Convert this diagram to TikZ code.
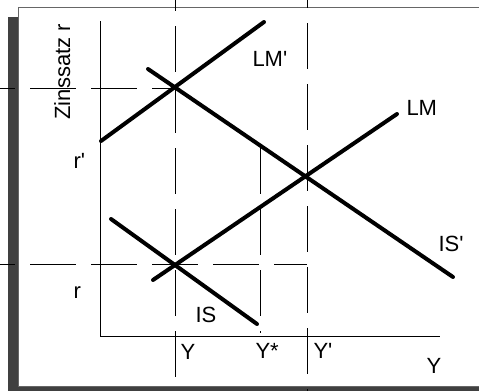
\documentclass[tikz,border=0pt]{standalone}
\usepackage{fontspec}
\setmainfont{Liberation Sans}
\tikzset{every picture/.style={line width=0.75pt}}
\tikzset{
curve/.style={line width=3pt, line cap=round},
guide/.style={line width=0.75pt, dash pattern=on 34.5pt off 11.25pt},
lbl/.style={anchor=base west, inner sep=0pt, font=\fontsize{16.5}{20}\selectfont}}

\begin{document}
\begin{tikzpicture}[x=0.75pt,y=0.75pt,yscale=-1,xscale=1]
\clip (0,0) rectangle (479,390);

%Shape: Rectangle [shadow]
\fill [color=black!75] (8,17) rectangle (490,400);
%Shape: Rectangle [frame]
\draw [color=black!60, fill=white] (18,7) rectangle (490,386);

%Points
\coordinate (O) at (100,336);
\coordinate (ytop) at (100,21);
\coordinate (xend) at (440,336);
\coordinate (lmp-a) at (101,141);
\coordinate (lmp-b) at (264,22);
\coordinate (isp-a) at (148,69);
\coordinate (isp-b) at (453,277);
\coordinate (lm-a) at (153,280);
\coordinate (lm-b) at (397,114);
\coordinate (is-a) at (111,219);
\coordinate (is-b) at (257,324);

%Dashed Lines
\draw [guide, dash phase=23.25pt] (0,88) -- (175,88);
\draw [guide, dash phase=23.25pt] (0,264) -- (307,264);
\draw [guide, dash phase=26.25pt] (175,0) -- (175,380);
\draw [guide, dash phase=28.5pt] (307,0) -- (307,395);
\draw [guide] (260,148) -- (260,333);

%Axes
\draw (ytop) -- (O) -- (xend);

%Straight Lines
\draw [curve] (lmp-a) -- (lmp-b);
\draw [curve] (isp-a) -- (isp-b);
\draw [curve] (lm-a) -- (lm-b);
\draw [curve] (is-a) -- (is-b);

% Text Node
\node (zins) [lbl, rotate=90] at (70,120) {Zinssatz r};
\node (rp) [lbl] at (73,168) {r\textquotesingle};
\node (r) [lbl] at (73,298) {r};
\node (lmp) [lbl] at (252,66) {LM\textquotesingle};
\node (lm) [lbl] at (406,115) {LM};
\node (isp) [lbl] at (438,251) {IS\textquotesingle};
\node (is) [lbl] at (195,322) {IS};
\node (y0) [lbl] at (180,359) {Y};
\node (ystar) [lbl] at (255,358) {Y*};
\node (yp) [lbl] at (313,358) {Y\textquotesingle};
\node (yaxis) [lbl] at (426,373) {Y};

\end{tikzpicture}
\end{document}
